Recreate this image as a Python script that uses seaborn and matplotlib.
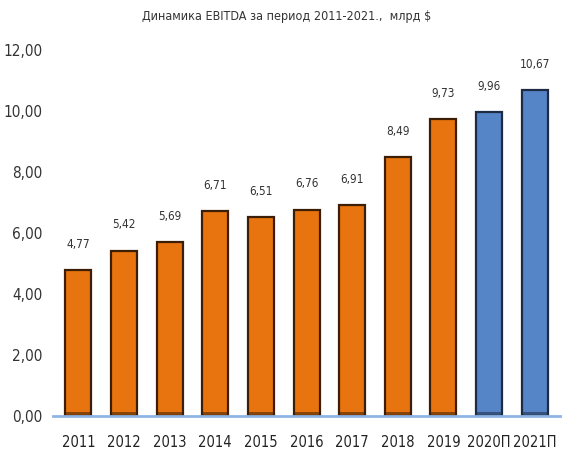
import numpy as np
import pandas as pd
import matplotlib
matplotlib.use("Agg")
import matplotlib.pyplot as plt
import seaborn as sns

years = ["2011", "2012", "2013", "2014", "2015", "2016", "2017", "2018", "2019", "2020П", "2021П"]
ebitda = [4.77, 5.42, 5.69, 6.71, 6.51, 6.76, 6.91, 8.49, 9.73, 9.96, 10.67]
kind = ["fact"] * 9 + ["forecast"] * 2

colors = {"fact": "#E8740F", "forecast": "#5585C6"}
edges = {"fact": "#3B1E05", "forecast": "#1E2B45"}

sns.set_style("white")
plt.rcParams["font.family"] = ["DejaVu Sans"]
plt.rcParams["font.stretch"] = "condensed"

df = pd.DataFrame({"year": years, "ebitda": ebitda, "kind": kind})

fig = plt.figure(figsize=(5.73, 4.71), dpi=100)
ax = fig.add_axes([0.093, 0.117, 0.884, 0.777])
sns.barplot(data=df, x="year", y="ebitda", hue="kind", palette=colors,
            saturation=1, dodge=False, width=0.57, legend=False, ax=ax)

for patch, k in zip(ax.patches, df["kind"]):
    patch.set_edgecolor(edges[k])
    patch.set_linewidth(1.6)

# darker strip at the foot of each bar
for i, k in enumerate(kind):
    ax.bar(i, 0.12, width=0.57, color=edges[k], alpha=0.55, linewidth=0)

for i, v in enumerate(ebitda):
    ax.annotate(f"{v:.2f}".replace(".", ","), (i, v), xytext=(0, 14),
                textcoords="offset points", ha="center", va="bottom",
                fontsize=8.5, color="#333333", fontstretch="condensed")

ax.set_ylim(0, 12)
ax.set_xlim(-0.55, 10.55)
ax.set_yticks(np.arange(0, 13, 2))
ax.set_yticklabels([f"{t:.2f}".replace(".", ",") for t in np.arange(0, 13, 2)],
                   fontstretch="condensed")
ax.set_xticks(range(len(years)))
ax.set_xticklabels(years, fontstretch="condensed")
ax.tick_params(axis="y", labelsize=11, length=0, pad=8, colors="#333333")
ax.tick_params(axis="x", labelsize=10.5, length=0, pad=14, colors="#222222")
ax.set_xlabel("")
ax.set_ylabel("")
for s in ["top", "right", "left"]:
    ax.spines[s].set_visible(False)
ax.spines["bottom"].set_color("#8EB4E3")
ax.spines["bottom"].set_linewidth(2)

fig.text(0.5, 0.965, "Динамика EBITDA за период 2011-2021.,  млрд $",
         ha="center", va="center", fontsize=9, color="#333333",
         fontstretch="condensed")

fig.savefig("out.png", dpi=100)
